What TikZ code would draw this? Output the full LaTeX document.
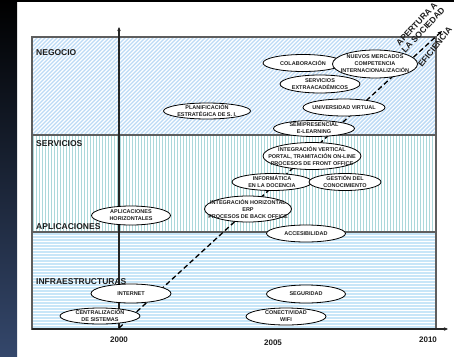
\documentclass[tikz,border=0pt]{standalone}
\usepackage{fontspec}
\setmainfont{Liberation Sans}
\usetikzlibrary{shapes.geometric,arrows.meta}
\definecolor{negstripe}{HTML}{BBDAF5}
\definecolor{servstripe}{HTML}{ACD8DA}
\definecolor{infstripe}{HTML}{C8E6F8}
\definecolor{framegray}{HTML}{5E5E5E}
\definecolor{stripbot}{HTML}{34476B}
\definecolor{ink}{HTML}{1E1E1E}
\begin{document}
\begin{tikzpicture}[x=1pt,y=-1pt,
  oval/.style={ellipse, draw=black, line width=0.8pt, fill=white, inner sep=0pt},
  otext/.style={inner sep=0pt, align=center, font=\fontsize{5.5}{6.9}\selectfont\bfseries, text=ink},
  band/.style={font=\fontsize{8.5}{10}\selectfont\bfseries, text=ink, anchor=base west, inner sep=0pt},
  year/.style={font=\fontsize{8}{10}\selectfont\bfseries, text=ink, inner sep=0pt},
  diag/.style={font=\fontsize{8.5}{9}\selectfont\bfseries, text=ink, inner sep=0pt, align=center},
  axis/.style={draw=black!85, line width=1.3pt, -{Stealth[length=4pt,width=3.5pt]}},
  trend/.style={draw=black, line width=1.3pt, dash pattern=on 5pt off 3pt, -{Stealth[length=4.5pt,width=4pt]}}
]
\useasboundingbox (0,0) rectangle (454,356);
% background
\fill[white] (0,0) rectangle (454,356);
\shade[top color=black, bottom color=stripbot] (0,0) rectangle (17,356);
\fill[black] (0,0) rectangle (454,2);
% bands
\begin{scope}
  \clip (32,37) rectangle (436,135);
  \foreach \a in {-104,-100,...,440} \draw[negstripe, line width=1.4pt] (\a,135) -- ++(98,-98);
\end{scope}
\begin{scope}
  \clip (32,135) rectangle (436,232);
  \foreach \a in {33,36,...,436} \draw[servstripe, line width=1pt] (\a,135) -- (\a,232);
\end{scope}
\begin{scope}
  \clip (32,232) rectangle (436,329);
  \foreach \b in {234,237,...,329} \draw[infstripe, line width=1.2pt] (32,\b) -- (436,\b);
\end{scope}
\draw[framegray, line width=1.5pt] (32,37) rectangle (436,329);
\draw[framegray, line width=1.5pt] (32,135) -- (436,135);
\draw[framegray, line width=1.5pt] (32,232) -- (436,232);
% band labels
\node[band] (lneg) at (36,55) {NEGOCIO};
\node[band] (lserv) at (36,146) {SERVICIOS};
\node[band] (lapl) at (36,229) {APLICACIONES};
\node[band] (linf) at (36,284) {INFRAESTRUCTURAS};
% axes
\coordinate (yb) at (119,329);
\coordinate (yt) at (119,27);
\coordinate (xo) at (32,329);
\coordinate (xe) at (448,329);
\draw[axis] (yb) -- (yt);
\draw[axis] (xo) -- (xe);
% years
\node[year] (y2000) at (119,340) {2000};
\node[year] (y2005) at (273,342.5) {2005};
\node[year] (y2010) at (428,340) {2010};
% trend
\coordinate (ts) at (119,328);
\coordinate (te) at (442,31);
\draw[trend] (ts) -- (te);
% ellipses
\node[oval, minimum width=87pt, minimum height=16pt] (e1) at (207,111) {};
\node[otext] (t1) at (e1) {PLANIFICACIÓN\\ESTRATÉGICA DE S. I.};
\node[oval, minimum width=80pt, minimum height=17pt] (e2) at (303,63) {};
\node[otext] (t2) at (e2) {COLABORACIÓN};
\node[oval, minimum width=85pt, minimum height=28pt] (e3) at (375,64) {};
\node[otext] (t3) at (e3) {NUEVOS MERCADOS\\COMPETENCIA\\INTERNACIONALIZACIÓN};
\node[oval, minimum width=80pt, minimum height=18pt] (e4) at (320,84) {};
\node[otext] (t4) at (e4) {SERVICIOS\\EXTRAACADÉMICOS};
\node[oval, minimum width=82pt, minimum height=17pt] (e5) at (344,107.5) {};
\node[otext] (t5) at (e5) {UNIVERSIDAD VIRTUAL};
\node[oval, minimum width=81pt, minimum height=16pt] (e6) at (314,128.5) {};
\node[otext] (t6) at (e6) {SEMIPRESENCIAL\\E-LEARNING};
\node[oval, minimum width=98pt, minimum height=27pt] (e7) at (312,156) {};
\node[otext] (t7) at (e7) {INTEGRACIÓN VERTICAL\\PORTAL, TRAMITACIÓN ON-LINE\\PROCESOS DE FRONT OFFICE};
\node[oval, minimum width=80pt, minimum height=17pt] (e8) at (272,182) {};
\node[otext] (t8) at (e8) {INFORMÁTICA\\EN LA DOCENCIA};
\node[oval, minimum width=72pt, minimum height=17pt] (e9) at (345,182) {};
\node[otext] (t9) at (e9) {GESTIÓN DEL\\CONOCIMIENTO};
\node[oval, minimum width=87pt, minimum height=26pt] (e10) at (248,209) {};
\node[otext] (t10) at (e10) {INTEGRACIÓN HORIZONTAL\\ERP\\PROCESOS DE BACK OFFICE};
\node[oval, minimum width=79pt, minimum height=17pt] (e11) at (306,233.5) {};
\node[otext] (t11) at (e11) {ACCESIBILIDAD};
\node[oval, minimum width=79pt, minimum height=19pt] (e12) at (131,215.5) {};
\node[otext] (t12) at (e12) {APLICACIONES\\HORIZONTALES};
\node[oval, minimum width=80pt, minimum height=19pt] (e13) at (131,293.5) {};
\node[otext] (t13) at (e13) {INTERNET};
\node[oval, minimum width=80pt, minimum height=16pt] (e14) at (100,316) {};
\node[otext] (t14) at (e14) {CENTRALIZACIÓN\\DE SISTEMAS};
\node[oval, minimum width=79pt, minimum height=18pt] (e15) at (306,294) {};
\node[otext] (t15) at (e15) {SEGURIDAD};
\node[oval, minimum width=80pt, minimum height=17pt] (e16) at (286,316.5) {};
\node[otext] (t16) at (e16) {CONECTIVIDAD\\WIFI};
% diagonal labels
\node[diag, rotate=47] (dap) at (420,27) {APERTURA A\\LA SOCIEDAD};
\node[diag, rotate=51] (def) at (435,47) {EFICIENCIA};
\end{tikzpicture}
\end{document}
